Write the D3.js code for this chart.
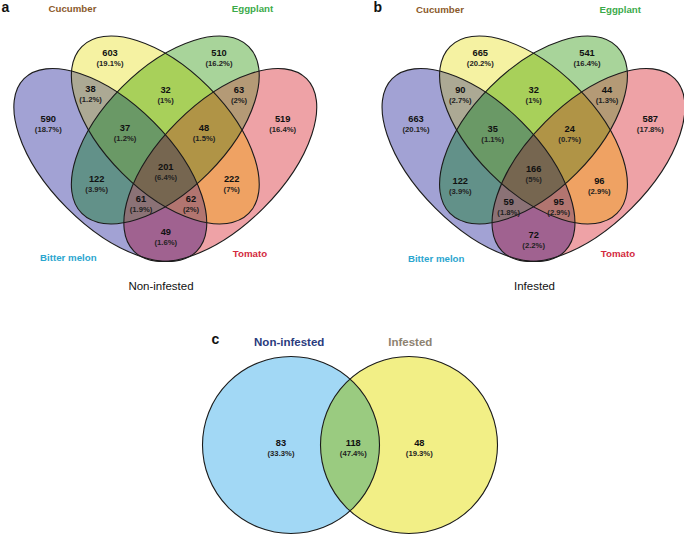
<!DOCTYPE html>
<html><head><meta charset="utf-8">
<script src="https://cdn.jsdelivr.net/npm/d3@7"></script>
<style>
html,body{margin:0;padding:0;background:#fff}
svg{display:block;font-family:"Liberation Sans",Arial,Helvetica,sans-serif}
</style>
</head><body>
<svg id="chart" width="684" height="535"></svg>
<script>
// ---------------- data ----------------
const setKeys = ["B", "C", "E", "T"];
const setNames = ["Bitter melon", "Cucumber", "Eggplant", "Tomato"];
const regionKeys = ["B","C","E","T","BC","CE","ET","BCE","CET","BCET","BE","CT","BET","BCT","BT"];
const nonInfestedCounts = [590, 603, 510, 519, 38, 32, 63, 37, 48, 201, 122, 222, 61, 62, 49];
const nonInfestedPct = ["18.7","19.1","16.2","16.4","1.2","1","2","1.2","1.5","6.4","3.9","7","1.9","2","1.6"];
const infestedCounts = [663, 665, 541, 587, 90, 32, 44, 35, 24, 166, 122, 96, 59, 95, 72];
const infestedPct = ["20.1","20.2","16.4","17.8","2.7","1","1.3","1.1","0.7","5","3.9","2.9","1.8","2.9","2.2"];
const compareNames = ["Non-infested", "Infested"];
const compareKeys = ["N", "NI", "I"];
const compareCounts = [83, 118, 48];
const comparePct = ["33.3", "47.4", "19.3"];

// ---------------- layout / style ----------------
const ellipseGeom = {
  B: {cx: -55, cy: 165, rx: 122, ry: 61, rot: 45},
  C: {cx: 0, cy: 130, rx: 118, ry: 61, rot: 45},
  E: {cx: 0, cy: 130, rx: 118, ry: 61, rot: -45},
  T: {cx: 55, cy: 165, rx: 122, ry: 61, rot: -45}
};
const regionColor = {
  B: "#A2A2D4", C: "#F5F2A2", E: "#A8D49A", T: "#EEA2A6",
  BC: "#ACA994", BE: "#629189", BT: "#A06290", CE: "#A8D05A", CT: "#EFA263", ET: "#B49A76",
  BCE: "#6A9966", BCT: "#B27570", BET: "#8B7276", CET: "#B09446",
  BCET: "#766650"
};
const setLabelColor = {B: "#2BA6CF", C: "#8B5A2B", E: "#3BAA4A", T: "#D32A3E"};

const panels = [
  {id: "a", axis: 165.3, counts: nonInfestedCounts, pct: nonInfestedPct, caption: compareNames[0], captionX: 161,
   letterX: 1.5,
   pos: {B:[48.3,118.7],C:[110,52.2],E:[219,52.2],T:[282.7,119],BC:[90.5,88.8],CE:[165.6,89.3],ET:[239,89.3],
         BCE:[125,127.5],CET:[204,127.5],BCET:[165.8,166.5],BE:[96.7,178.8],CT:[231.7,178.8],BET:[141,198.5],
         BCT:[191,198.5],BT:[165.8,231.8]},
   lab: {C:[72.5,11.7],E:[252.5,12.3],B:[68.3,261],T:[250,256.5]}},
  {id: "b", axis: 533.5, counts: infestedCounts, pct: infestedPct, caption: compareNames[1], captionX: 534.5,
   letterX: 373.5,
   pos: {B:[416,119],C:[480.3,52.3],E:[587,52.3],T:[650.3,119],BC:[460.3,90],CE:[533.7,90],ET:[607,90],
         BCE:[492.7,128.3],CET:[569.7,128.3],BCET:[533.7,168.3],BE:[460.3,180.7],CT:[599.3,180.7],BET:[508.7,201.7],
         BCT:[558.7,201.7],BT:[533.7,234.3]},
   lab: {C:[440,12.5],E:[620.3,12.5],B:[436.2,262.3],T:[618,257]}}
];

const svg = d3.select("#chart");
const defs = svg.append("defs");

panels.forEach(p => {
  const x = d3.scaleLinear().domain([-100, 100]).range([p.axis - 100, p.axis + 100]);
  const y = d3.scaleLinear().domain([0, 100]).range([0, 100]);
  const tf = k => {
    const g = ellipseGeom[k];
    return `translate(${x(g.cx)},${y(g.cy)}) rotate(${g.rot})`;
  };
  setKeys.forEach(k => {
    const g = ellipseGeom[k];
    defs.append("clipPath").attr("id", `clip-${p.id}-${k}`)
      .append("ellipse").attr("cx", 0).attr("cy", 0).attr("rx", g.rx).attr("ry", g.ry)
      .attr("transform", tf(k));
  });
  const panel = svg.append("g").attr("class", "panel-" + p.id);
  const ordered = regionKeys.slice().sort((a, b) => a.length - b.length);
  ordered.forEach(rk => {
    const chars = rk.split("");
    let parent = panel;
    chars.slice(0, -1).forEach(c => {
      parent = parent.append("g").attr("clip-path", `url(#clip-${p.id}-${c})`);
    });
    const last = chars[chars.length - 1];
    const g = ellipseGeom[last];
    parent.append("ellipse").attr("cx", 0).attr("cy", 0).attr("rx", g.rx).attr("ry", g.ry)
      .attr("transform", tf(last)).attr("fill", regionColor[rk]).attr("stroke", "none");
  });
  setKeys.forEach(k => {
    const g = ellipseGeom[k];
    panel.append("ellipse").attr("cx", 0).attr("cy", 0).attr("rx", g.rx).attr("ry", g.ry)
      .attr("transform", tf(k)).attr("fill", "none").attr("stroke", "#1b1b1b").attr("stroke-width", 1.1);
  });
  regionKeys.forEach((rk, i) => {
    const [lx, ly] = p.pos[rk];
    panel.append("text").attr("x", lx).attr("y", ly + 3.3).attr("text-anchor", "middle")
      .attr("font-size", 9.3).attr("font-weight", "bold").attr("fill", "#111").text(p.counts[i]);
    panel.append("text").attr("x", lx).attr("y", ly + 13.4).attr("text-anchor", "middle")
      .attr("font-size", 7.7).attr("font-weight", "bold").attr("fill", "#222").text(`(${p.pct[i]}%)`);
  });
  setKeys.forEach((k, i) => {
    const [lx, ly] = p.lab[k];
    panel.append("text").attr("x", lx).attr("y", ly).attr("text-anchor", "middle")
      .attr("font-size", 9.7).attr("font-weight", "bold").attr("fill", setLabelColor[k]).text(setNames[i]);
  });
  panel.append("text").attr("x", p.captionX).attr("y", 290.3).attr("text-anchor", "middle")
    .attr("font-size", 11.5).attr("fill", "#111").text(p.caption);
  panel.append("text").attr("x", p.letterX).attr("y", 11.7).attr("font-size", 14)
    .attr("font-weight", "bold").attr("fill", "#111").text(p.id);
});

// ---------------- panel c ----------------
const cx = d3.scaleLinear().domain([-1, 1]).range([291, 409]);
const cGeom = {N: {c: -1, r: 88.5}, I: {c: 1, r: 88.5}};
const cCol = {N: "#A2D8F5", I: "#F2EF86", NI: "#9ACB80"};
const cy0 = 445;
const pc = svg.append("g").attr("class", "panel-c");
defs.append("clipPath").attr("id", "clip-c-N").append("circle")
  .attr("cx", cx(cGeom.N.c)).attr("cy", cy0).attr("r", cGeom.N.r);
["N", "I"].forEach(k => {
  pc.append("circle").attr("cx", cx(cGeom[k].c)).attr("cy", cy0).attr("r", cGeom[k].r).attr("fill", cCol[k]);
});
pc.append("g").attr("clip-path", "url(#clip-c-N)").append("circle")
  .attr("cx", cx(cGeom.I.c)).attr("cy", cy0).attr("r", cGeom.I.r).attr("fill", cCol.NI);
["N", "I"].forEach(k => {
  pc.append("circle").attr("cx", cx(cGeom[k].c)).attr("cy", cy0).attr("r", cGeom[k].r)
    .attr("fill", "none").attr("stroke", "#1b1b1b").attr("stroke-width", 1.1);
});
const cLabelX = {N: 281, NI: 353.3, I: 419.3};
compareKeys.forEach((k, i) => {
  pc.append("text").attr("x", cLabelX[k]).attr("y", 445.6).attr("text-anchor", "middle")
    .attr("font-size", 9.3).attr("font-weight", "bold").attr("fill", "#111").text(compareCounts[i]);
  pc.append("text").attr("x", cLabelX[k]).attr("y", 455.7).attr("text-anchor", "middle")
    .attr("font-size", 7.7).attr("font-weight", "bold").attr("fill", "#222").text(`(${comparePct[i]}%)`);
});
pc.append("text").attr("x", 289.2).attr("y", 345.5).attr("text-anchor", "middle")
  .attr("font-size", 11.5).attr("font-weight", "bold").attr("fill", "#2A3B7D").text(compareNames[0]);
pc.append("text").attr("x", 410.3).attr("y", 345.5).attr("text-anchor", "middle")
  .attr("font-size", 11.5).attr("font-weight", "bold").attr("fill", "#8E8270").text(compareNames[1]);
pc.append("text").attr("x", 211.5).attr("y", 344).attr("font-size", 14)
  .attr("font-weight", "bold").attr("fill", "#111").text("c");
</script>
</body></html>
